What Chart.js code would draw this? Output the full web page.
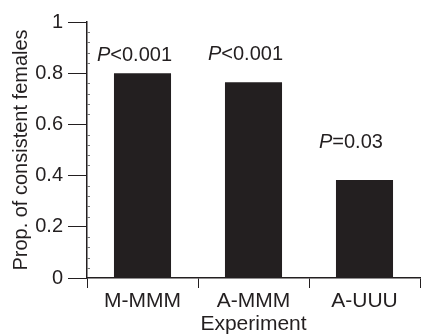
<!DOCTYPE html>
<html>
<head>
<meta charset="utf-8">
<script src="https://cdn.jsdelivr.net/npm/chart.js@4/dist/chart.umd.min.js"></script>
<style>
	html, body { margin: 0; padding: 0; background: #fff; }
	canvas { display: block; }
</style>
</head>
<body>
<canvas id="myChart" width="421" height="335"></canvas>
<script>
const experiments = ['M-MMM', 'A-MMM', 'A-UUU'];
const proportions = [0.8, 0.765, 0.383];
const pLabels = [['P', '<0.001'], ['P', '<0.001'], ['P', '=0.03']];
const yTicks = [0, 0.2, 0.4, 0.6, 0.8, 1];
const yTickLabels = ['0', '0.2', '0.4', '0.6', '0.8', '1'];

const ink = '#231f20';
const fam = '"Liberation Sans", Arial, sans-serif';

// small ticks on the inside of the y axis
const minorTicks = {
	id: 'minorTicks',
	afterDraw(chart) {
		const ctx = chart.ctx;
		const y = chart.scales.y;
		ctx.save();
		ctx.strokeStyle = '#777';
		ctx.lineWidth = 1;
		for (let v = 0.04; v < 1; v += 0.04) {
			if (Math.abs(v * 5 - Math.round(v * 5)) < 0.001) continue;
			const py = Math.round(y.getPixelForValue(v)) + 0.5;
			ctx.beginPath();
			ctx.moveTo(y.right, py);
			ctx.lineTo(y.right + 3, py);
			ctx.stroke();
		}
		ctx.restore();
	},
};

// P value text above each bar
const pValues = {
	id: 'pValues',
	afterDatasetsDraw(chart) {
		const ctx = chart.ctx;
		const bars = chart.getDatasetMeta(0).data;
		const lift = [12.5, 22.5, 32];
		ctx.save();
		ctx.fillStyle = ink;
		ctx.textBaseline = 'alphabetic';
		ctx.textAlign = 'left';
		bars.forEach((bar, i) => {
			const left = bar.x - bar.width / 2 - 17;
			const base = bar.y - lift[i];
			ctx.font = 'italic 20px ' + fam;
			ctx.fillText(pLabels[i][0], left, base);
			const w = ctx.measureText(pLabels[i][0]).width;
			ctx.font = '20px ' + fam;
			ctx.fillText(pLabels[i][1], left + w, base);
		});
		ctx.restore();
	},
};

const ctx = document.getElementById('myChart').getContext('2d');
const myChart = new Chart(ctx, {
	type: 'bar',
	data: {
		labels: experiments,
		datasets: [
			{
				data: proportions,
				backgroundColor: ink,
				borderWidth: 0,
				categoryPercentage: 1,
				barPercentage: 0.514,
			},
		],
	},
	options: {
		responsive: false,
		animation: false,
		layout: { padding: { top: 22, right: 1, left: 0, bottom: 0 } },
		plugins: {
			legend: { display: false },
			tooltip: { enabled: false },
		},
		scales: {
			x: {
				afterFit: (s) => { s.height = 57; },
				grid: {
					offset: true,
					drawOnChartArea: false,
					tickLength: 10,
					color: ink,
					lineWidth: 1,
				},
				border: { color: ink, width: 1.5 },
				ticks: { color: ink, font: { family: fam, size: 21 }, padding: 1 },
				title: {
					display: true,
					text: 'Experiment',
					color: ink,
					font: { family: fam, size: 21, lineHeight: 1 },
					padding: { top: 0, bottom: 0 },
				},
			},
			y: {
				min: 0,
				max: 1,
				afterFit: (s) => { s.width = 87; },
				afterBuildTicks: (s) => {
					s.ticks = yTicks.map((v) => ({ value: v }));
				},
				grid: {
					drawOnChartArea: false,
					tickLength: 19,
					color: ink,
					lineWidth: 1,
				},
				border: { color: ink, width: 1.5 },
				ticks: {
					color: ink,
					font: { family: fam, size: 20 },
					padding: 5,
					callback: (v, i) => yTickLabels[i],
				},
				title: {
					display: true,
					text: 'Prop. of consistent females',
					color: ink,
					font: { family: fam, size: 20, lineHeight: 1 },
					padding: { top: 11, bottom: 0 },
				},
			},
		},
	},
	plugins: [minorTicks, pValues],
});
</script>
</body>
</html>
